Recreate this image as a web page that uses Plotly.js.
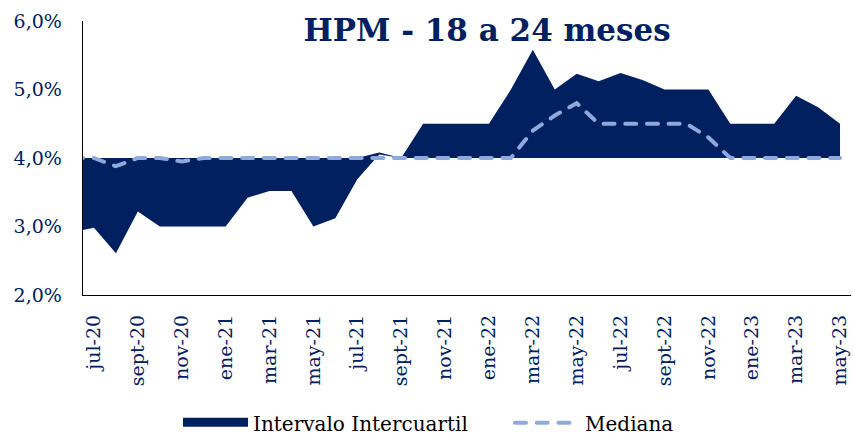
<!DOCTYPE html>
<html>
<head>
<meta charset="utf-8">
<script src="https://cdn.plot.ly/plotly-3.0.1.min.js"></script>
<style>
html,body{margin:0;padding:0;background:#fff;}
#chart{width:853px;height:435px;}
</style>
</head>
<body>
<div id="chart"></div>
<script>
// Months (jun-20 lies just left of the visible axis range)
const months = ['jun-20','jul-20','ago-20','sept-20','oct-20','nov-20','dic-20',
  'ene-21','feb-21','mar-21','abr-21','may-21','jun-21','jul-21','ago-21','sept-21','oct-21','nov-21','dic-21',
  'ene-22','feb-22','mar-22','abr-22','may-22','jun-22','jul-22','ago-22','sept-22','oct-22','nov-22','dic-22',
  'ene-23','feb-23','mar-23','abr-23','may-23'];
// Lower quartile (%)
const lowerQ = [2.92,2.98,2.61,3.22,3.00,3.00,2.99,
  3.00,3.42,3.52,3.52,3.00,3.12,3.69,4.05,4.00,4.00,4.00,4.00,
  4.00,4.00,4.00,4.00,4.00,4.00,4.00,4.00,4.00,4.00,4.00,4.00,
  4.00,4.00,4.00,4.00,4.00];
// Upper quartile (%)
const upperQ = [4.00,4.00,4.00,4.00,4.00,4.00,4.00,
  4.00,4.00,4.00,4.00,4.00,4.00,4.00,4.08,4.00,4.50,4.50,4.50,
  4.50,5.00,5.58,5.00,5.23,5.12,5.24,5.14,5.00,5.00,5.00,4.50,
  4.50,4.50,4.91,4.74,4.50];
// Median (%)
const median = [4.00,4.00,3.88,4.00,4.00,3.95,4.00,
  4.00,4.00,4.00,4.00,4.00,4.00,4.00,4.00,4.00,4.00,4.00,4.00,
  4.00,4.00,4.40,4.62,4.80,4.50,4.50,4.50,4.50,4.50,4.30,4.00,
  4.00,4.00,4.00,4.00,4.00];
const tickLabels = ['jul-20','sept-20','nov-20','ene-21','mar-21','may-21','jul-21','sept-21','nov-21',
  'ene-22','mar-22','may-22','jul-22','sept-22','nov-22','ene-23','mar-23','may-23'];
const yTicks = [2,3,4,5,6];

const NAVY = '#002060';
const LIGHT = '#8EA9DB';
const FONT = 'DejaVu Serif';

const traces = [
  {x: months, y: lowerQ.map(v => v/100), type: 'scatter', mode: 'lines',
   line: {width: 0, color: NAVY}, showlegend: false, hoverinfo: 'skip'},
  {x: months, y: upperQ.map(v => v/100), type: 'scatter', mode: 'lines', fill: 'tonexty',
   fillcolor: NAVY, line: {width: 0, color: NAVY}, showlegend: false, name: 'Intervalo Intercuartil'},
  // legend entry only (no data points)
  {x: [null], y: [null], type: 'scatter', mode: 'lines', fill: 'toself',
   fillcolor: NAVY, line: {width: 6, color: NAVY}, name: 'Intervalo Intercuartil'},
  {x: months, y: median.map(v => v/100), type: 'scatter', mode: 'lines',
   line: {width: 4, color: LIGHT, dash: '11px,10.7px'}, name: 'Mediana'}
];

const layout = {
  width: 853, height: 435,
  margin: {l: 83, r: 2, t: 21, b: 140},
  paper_bgcolor: '#fff', plot_bgcolor: '#fff',
  title: {text: '<b>HPM - 18 a 24 meses</b>', font: {family: FONT, size: 31, color: NAVY},
          x: 0.571, xanchor: 'center', y: 0.93, yanchor: 'middle'},
  xaxis: {type: 'category', categoryorder: 'array', categoryarray: months,
          range: [0.5, 35.5], tickvals: tickLabels, ticktext: tickLabels,
          tickangle: -90, tickfont: {family: FONT, size: 19, color: NAVY},
          showline: true, linecolor: '#000', linewidth: 1.3, showgrid: false, zeroline: false,
          ticks: '', ticklabelstandoff: 11, fixedrange: true},
  yaxis: {range: [0.02, 0.06], tickvals: yTicks.map(v => v/100),
          ticktext: yTicks.map(v => v.toFixed(1).replace('.', ',') + '%'),
          tickfont: {family: FONT, size: 19, color: NAVY},
          showline: true, linecolor: '#000', linewidth: 1.3, showgrid: false, zeroline: false,
          ticks: '', ticklabelstandoff: 16, fixedrange: true},
  showlegend: true,
  legend: {orientation: 'h', xref: 'container', yref: 'container', x: 0.2087, xanchor: 'left',
           y: 0.028, yanchor: 'middle', font: {family: FONT, size: 20, color: '#000'},
           itemwidth: 65, entrywidth: 252, traceorder: 'normal', bgcolor: 'rgba(0,0,0,0)'}
};

function roundMedianCaps(gd) {
  gd.querySelectorAll('path.js-line').forEach(p => {
    const s = window.getComputedStyle(p).stroke.replace(/\s/g, '');
    if (s === 'rgb(142,169,219)') {
      p.style.setProperty('stroke-linecap', 'round');
      p.setAttribute('stroke-linecap', 'round');
    }
  });
}

Plotly.newPlot('chart', traces, layout, {displayModeBar: false, staticPlot: true})
  .then(gd => roundMedianCaps(gd));
</script>
</body>
</html>
